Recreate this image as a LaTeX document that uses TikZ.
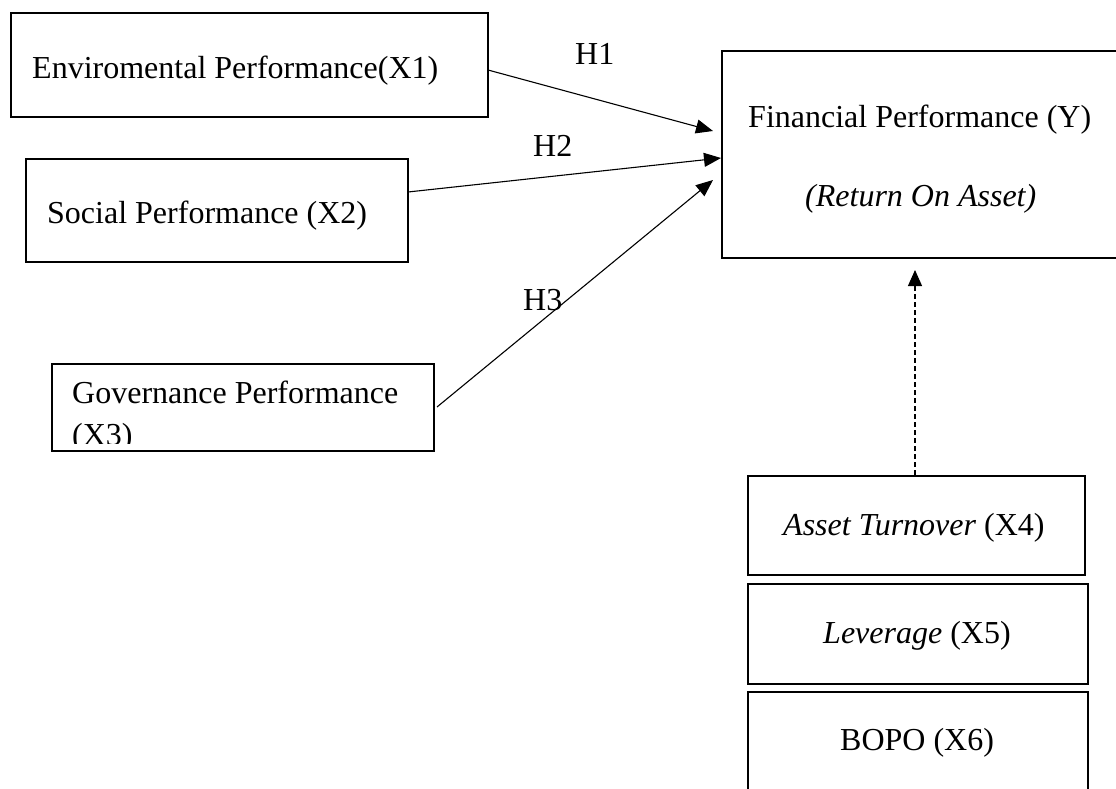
\documentclass[tikz,border=0pt]{standalone}
\usepackage{fontspec}
\setmainfont{Liberation Serif}
\usetikzlibrary{arrows.meta}
\begin{document}
\begin{tikzpicture}[x=1pt,y=-1pt,
  box/.style={draw, line width=2pt, rectangle, inner sep=0pt, anchor=north west},
  txt/.style={anchor=base west, inner sep=0pt, font=\fontsize{32}{38}\selectfont},
  hlab/.style={anchor=base west, inner sep=0pt, font=\fontsize{32}{36}\selectfont},
  conn/.style={line width=1.1pt, -{Triangle[length=17pt,width=14pt]}}]
\useasboundingbox (0,0) rectangle (1116,789);
\clip (0,0) rectangle (1116,789);
% boxes
\node[box, minimum width=477pt, minimum height=104pt] (env) at (10,12) {};
\node[box, minimum width=382pt, minimum height=103pt] (soc) at (25,158) {};
\node[box, minimum width=382pt, minimum height=87pt] (gov) at (51,363) {};
\node[box, minimum width=420pt, minimum height=207pt] (fin) at (721,50) {};
\node[box, minimum width=337pt, minimum height=99pt] (at) at (747,475) {};
\node[box, minimum width=340pt, minimum height=100pt] (lev) at (747,583) {};
\node[box, minimum width=340pt, minimum height=120pt] (bopo) at (747,691) {};
% texts
\node[txt] (envt) at (32,79) {Enviromental Performance(X1)};
\node[txt] (soct) at (47,223) {Social Performance (X2)};
\begin{scope}
\clip (gov.north west) rectangle ([yshift=9pt]gov.south east);
\node[txt, align=left, anchor=north west] (govt) at (72,381) {Governance Performance\\[4pt](X3)};
\end{scope}
\node[txt] (fint) at (748,128) {Financial Performance (Y)};
\node[txt] (roat) at (805,206) {\itshape (Return On Asset)};
\node[txt] (att) at (783,535) {\itshape Asset Turnover\/\upshape{} (X4)};
\node[txt] (levt) at (823,643) {\itshape Leverage\/\upshape{} (X5)};
\node[txt] (bopot) at (840,750) {BOPO (X6)};
% connectors
\coordinate (e1) at (713,131);
\coordinate (e2) at (721,158);
\coordinate (e3) at (713,180);
\coordinate (s1) at (488,70);
\coordinate (s2) at (408,192);
\coordinate (s3) at (437,407);
\draw[conn] (s1) -- (e1);
\draw[conn] (s2) -- (e2);
\draw[conn] (s3) -- (e3);
\coordinate (d1) at (915,475);
\coordinate (d2) at (915,270);
\draw[line width=1.1pt, dash pattern=on 5pt off 3pt, -{Triangle[length=16pt,width=14pt]}] (d1) -- (d2);
% labels
\node[hlab] (h1) at (575,65) {H1};
\node[hlab] (h2) at (533,157) {H2};
\node[hlab] (h3) at (523,310) {H3};
\end{tikzpicture}
\end{document}
